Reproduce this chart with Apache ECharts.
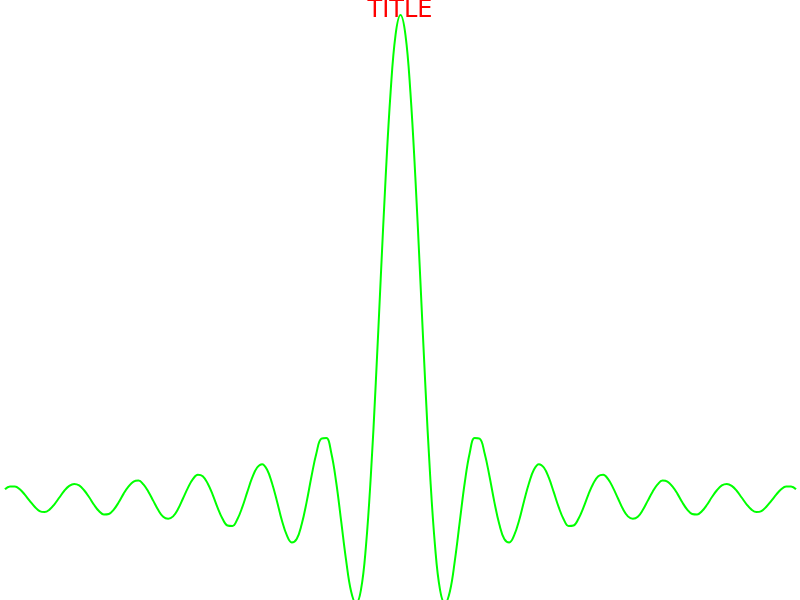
<!DOCTYPE html>
<html>
<head>
<meta charset="utf-8">
<script src="https://cdn.jsdelivr.net/npm/echarts@6/dist/echarts.min.js"></script>
<style>html,body{margin:0;padding:0;background:#fff}#c{width:800px;height:600px}</style>
</head>
<body>
<div id="c"></div>
<script>
var titleText = 'TITLE';
var xs = [
  -40, -39.5, -39, -38.5, -38, -37.5, -37, -36.5, -36, -35.5, -35, -34.5, -34, -33.5, -33, -32.5, -32, -31.5, -31, -30.5,
  -30, -29.5, -29, -28.5, -28, -27.5, -27, -26.5, -26, -25.5, -25, -24.5, -24, -23.5, -23, -22.5, -22, -21.5, -21, -20.5,
  -20, -19.5, -19, -18.5, -18, -17.5, -17, -16.5, -16, -15.5, -15, -14.5, -14, -13.5, -13, -12.5, -12, -11.5, -11, -10.5,
  -10, -9.5, -9, -8.5, -8, -7.5, -7, -6.5, -6, -5.5, -5, -4.5, -4, -3.5, -3, -2.5, -2, -1.5, -1, -0.5,
  0, 0.5, 1, 1.5, 2, 2.5, 3, 3.5, 4, 4.5, 5, 5.5, 6, 6.5, 7, 7.5, 8, 8.5, 9, 9.5,
  10, 10.5, 11, 11.5, 12, 12.5, 13, 13.5, 14, 14.5, 15, 15.5, 16, 16.5, 17, 17.5, 18, 18.5, 19, 19.5,
  20, 20.5, 21, 21.5, 22, 22.5, 23, 23.5, 24, 24.5, 25, 25.5, 26, 26.5, 27, 27.5, 28, 28.5, 29, 29.5,
  30, 30.5, 31, 31.5, 32, 32.5, 33, 33.5, 34, 34.5, 35, 35.5, 36, 36.5, 37, 37.5, 38, 38.5, 39, 39.5, 40
];
var ys = [
  0.019, 0.025, 0.025, 0.019, 0.008, -0.005, -0.017, -0.026, -0.028, -0.023, -0.012, 0.002, 0.016, 0.026, 0.030, 0.027, 0.017, 0.003, -0.013, -0.026,
  -0.033, -0.032, -0.023, -0.008, 0.010, 0.025, 0.035, 0.037, 0.029, 0.014, -0.005, -0.024, -0.038, -0.042, -0.037, -0.022, 0.000, 0.022, 0.040, 0.049,
  0.046, 0.031, 0.008, -0.019, -0.042, -0.056, -0.057, -0.043, -0.018, 0.013, 0.043, 0.064, 0.071, 0.060, 0.032, -0.005, -0.045, -0.076, -0.091, -0.084,
  -0.054, -0.008, 0.046, 0.094, 0.124, 0.125, 0.094, 0.033, -0.047, -0.128, -0.192, -0.217, -0.189, -0.100, 0.047, 0.239, 0.455, 0.665, 0.841, 0.959,
  1.000, 0.959, 0.841, 0.665, 0.455, 0.239, 0.047, -0.100, -0.189, -0.217, -0.192, -0.128, -0.047, 0.033, 0.094, 0.125, 0.124, 0.094, 0.046, -0.008,
  -0.054, -0.084, -0.091, -0.076, -0.045, -0.005, 0.032, 0.060, 0.071, 0.064, 0.043, 0.013, -0.018, -0.043, -0.057, -0.056, -0.042, -0.019, 0.008, 0.031,
  0.046, 0.049, 0.040, 0.022, 0.000, -0.022, -0.037, -0.042, -0.038, -0.024, -0.005, 0.014, 0.029, 0.037, 0.035, 0.025, 0.010, -0.008, -0.023, -0.032,
  -0.033, -0.026, -0.013, 0.003, 0.017, 0.027, 0.030, 0.026, 0.016, 0.002, -0.012, -0.023, -0.028, -0.026, -0.017, -0.005, 0.008, 0.019, 0.025, 0.025, 0.019
];
var points = xs.map(function (x, i) { return [x, ys[i]]; });

var chart = echarts.init(document.getElementById('c'), null, {renderer: 'canvas'});
chart.setOption({
  animation: false,
  backgroundColor: '#ffffff',
  title: {
    text: titleText,
    left: 'center',
    top: -6,
    textStyle: {color: '#ff0000', fontSize: 24, fontWeight: 'normal', fontFamily: 'DejaVu Sans'}
  },
  grid: {left: 5, right: 4, top: 15, bottom: 0, containLabel: false},
  xAxis: {type: 'value', min: -40, max: 40, show: false},
  yAxis: {type: 'value', min: -0.21, max: 1, show: false},
  series: [{
    type: 'line',
    data: points,
    smooth: 0.4,
    showSymbol: false,
    lineStyle: {color: '#00ff00', width: 2},
    clip: true
  }]
});
</script>
</body>
</html>
